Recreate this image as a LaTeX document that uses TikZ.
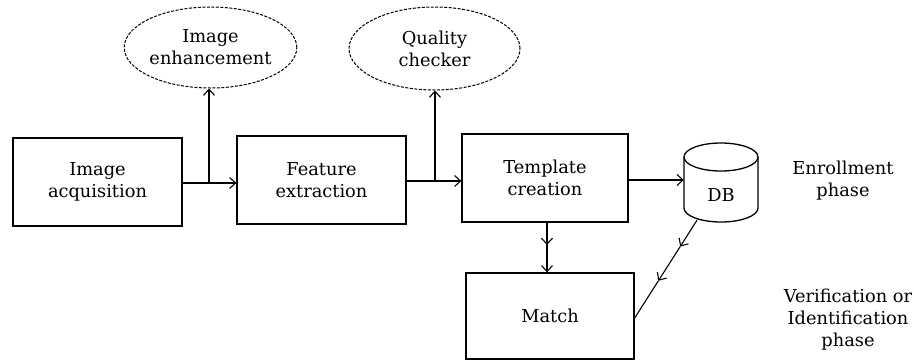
\documentclass[tikz,border=0pt]{standalone}
\usepackage{fontspec}
\setmainfont{DejaVu Serif}
\usetikzlibrary{arrows.meta,decorations.markings,shapes.geometric,calc}

\tikzset{
  barb/.tip={Straight Barb[length=6pt,width=11pt,line width=1.1pt]},
  txt/.style={font=\fontsize{17.8}{22}\selectfont},
  stage/.style={draw, line width=1.3pt, rectangle, inner sep=0pt, align=center, txt},
  tool/.style={draw, line width=1pt, dash pattern=on 3pt off 1.5pt, ellipse,
               inner sep=0pt, align=center, txt},
  phase/.style={align=center, txt},
  link/.style={line width=1.3pt, -barb},
  midbarb/.style={postaction={decorate, decoration={markings,
                  mark=at position #1 with {\arrow{barb}}}}}
}

\begin{document}
\begin{tikzpicture}[x=1pt,y=-1pt]
  \useasboundingbox (0,0) rectangle (914,360);

  % processing stages
  \node[stage, minimum width=169pt, minimum height=88pt] (acq)  at (97.5,182) {Image\\acquisition};
  \node[stage, minimum width=169pt, minimum height=88pt] (feat) at (321.5,180) {Feature\\extraction};
  \node[stage, minimum width=166pt, minimum height=88pt] (tpl)  at (545,178) {Template\\creation};
  \node[stage, minimum width=168pt, minimum height=86pt] (match) at (550,316) {Match};

  % auxiliary operations
  \node[tool, minimum width=171pt, minimum height=81pt] (enh) at (210.5,47.5) {Image\\enhancement};
  \node[tool, minimum width=171pt, minimum height=83pt] (qual) at (434.5,48.5) {Quality\\checker};

  % database cylinder
  \node[minimum width=74pt, minimum height=79pt, inner sep=0pt] (db) at (721,182.5) {};
  \draw[line width=1.3pt] (721,157) ellipse [x radius=37pt, y radius=14pt];
  \draw[line width=1.3pt] (684,157) -- (684,208)
    arc[start angle=180, end angle=360, x radius=37pt, y radius=14pt] -- (758,157);
  \node[txt] (dblabel) at (721,195) {DB};

  % phase labels
  \node[phase] (enroll) at (843,181) {Enrollment\\phase};
  \node[phase] (verify) at (848,320) {Verification or\\Identification\\phase};

  % flow
  \draw[link] ([yshift=-1pt]acq.east) -- ([yshift=-1pt]acq.east -| feat.west);
  \draw[link] (acq.east -| enh.south) ++(-1.5,1) coordinate (j1) -- (j1 |- enh.south);
  \draw[link] ([yshift=-1pt]feat.east) -- ([yshift=-1pt]feat.east -| tpl.west);
  \draw[link] (feat.east -| qual.south) ++(0.5,1) coordinate (j2) -- (j2 |- qual.south);
  \draw[link] ([yshift=-2pt]tpl.east) -- ([yshift=-2pt]tpl.east -| db.west);
  \draw[link, midbarb=0.45] ([xshift=2pt]tpl.south) -- ([xshift=2pt]tpl.south |- match.north);

  % database lookup feeding the matcher
  \coordinate (dbout) at ([shift={(-24pt,2pt)}]db.south);
  \coordinate (matchin) at ([yshift=-2pt]match.east);
  \coordinate (m1) at ($(dbout)!0.27!(matchin)$);
  \coordinate (m2) at ($(dbout)!0.62!(matchin)$);
  \draw[line width=1.1pt, -barb] (dbout) -- (m1);
  \draw[line width=1.1pt, -barb] (m1) -- (m2);
  \draw[line width=1.1pt] (m2) -- (matchin);
\end{tikzpicture}
\end{document}
